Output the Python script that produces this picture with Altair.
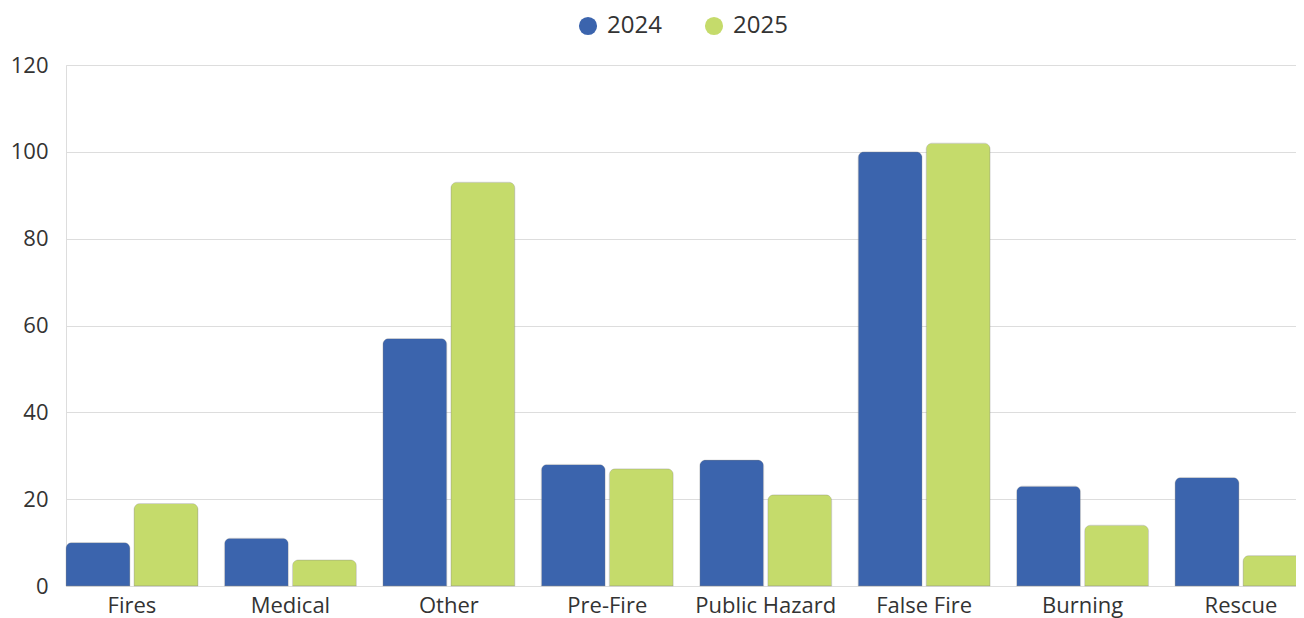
import altair as alt
import pandas as pd

categories = ["Fires", "Medical", "Other", "Pre-Fire", "Public Hazard", "False Fire", "Burning", "Rescue"]
years = ["2024", "2025"]
values_2024 = [10, 11, 57, 28, 29, 100, 23, 25]
values_2025 = [19, 6, 93, 27, 21, 102, 14, 7]
y_ticks = [0, 20, 40, 60, 80, 100, 120]
colors = ["#3B64AD", "#C5DB6B"]

rows = []
for c, a, b in zip(categories, values_2024, values_2025):
    rows.append({"category": c, "year": years[0], "value": a})
    rows.append({"category": c, "year": years[1], "value": b})
df = pd.DataFrame(rows)

FONT = "Open Sans"

chart = alt.Chart(df).mark_bar(
    cornerRadiusTopLeft=6, cornerRadiusTopRight=6,
    stroke="#888888", strokeOpacity=0.35, strokeWidth=0.8
).encode(
    x=alt.X("category:N", sort=categories,
            scale=alt.Scale(paddingInner=0.167, paddingOuter=0.0, range=[0, 1241]),
            axis=alt.Axis(title=None, labelAngle=0, labelFontSize=22, labelColor="#333333",
                          labelFont=FONT, domain=False, ticks=False, labelPadding=9)),
    xOffset=alt.XOffset("year:N", sort=years, scale=alt.Scale(paddingInner=0.06)),
    y=alt.Y("value:Q", scale=alt.Scale(domain=[0, 120]),
            axis=alt.Axis(title=None, values=y_ticks, labelFontSize=22, labelColor="#333333",
                          labelFont=FONT, domain=False, ticks=False, labelPadding=18,
                          gridColor="#dddddd", gridWidth=1)),
    color=alt.Color("year:N", scale=alt.Scale(domain=years, range=colors),
                    legend=alt.Legend(title=None, orient="none", direction="horizontal",
                                      legendX=510, legendY=-51,
                                      symbolType="circle", symbolSize=330, symbolStrokeWidth=0,
                                      labelFontSize=24, labelFont=FONT, labelColor="#333333",
                                      labelOffset=7, columnPadding=40)),
).properties(
    width=1230, height=521,
    padding={"left": 58, "top": 57, "right": 0, "bottom": 32},
    autosize=alt.AutoSizeParams(type="none"),
).configure_view(strokeWidth=0).configure(background="white")

chart.save("out.html", embed_options={"renderer": "svg", "actions": False})
